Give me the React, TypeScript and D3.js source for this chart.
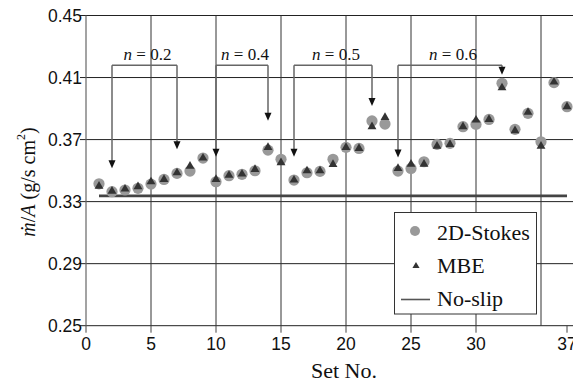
import React from 'react';
import * as d3 from 'd3';

// set numbers on the x axis
const sets = [1, 2, 3, 4, 5, 6, 7, 8, 9, 10, 11, 12, 13, 14, 15, 16, 17, 18, 19, 20,
  21, 22, 23, 24, 25, 26, 27, 28, 29, 30, 31, 32, 33, 34, 35, 36, 37];

// 2D-Stokes (grey circles)
const stokes = [0.3415, 0.3364, 0.3375, 0.3386, 0.3413, 0.3443, 0.3482, 0.3497, 0.3581, 0.3428,
  0.3467, 0.3476, 0.3499, 0.3632, 0.3573, 0.3439, 0.3486, 0.3495, 0.3573, 0.3650,
  0.3643, 0.3820, 0.3800, 0.3497, 0.3514, 0.3557, 0.3669, 0.3676, 0.3783, 0.3798,
  0.3830, 0.4063, 0.3766, 0.3869, 0.3686, 0.4067, 0.3912];

// MBE (dark triangles)
const mbe = [0.3400, 0.3368, 0.3381, 0.3396, 0.3428, 0.3443, 0.3486, 0.3529, 0.3581, 0.3443,
  0.3470, 0.3478, 0.3508, 0.3650, 0.3551, 0.3439, 0.3499, 0.3499, 0.3540, 0.3650,
  0.3643, 0.3783, 0.3843, 0.3514, 0.3542, 0.3542, 0.3658, 0.3669, 0.3783, 0.3826,
  0.3830, 0.4034, 0.3757, 0.3876, 0.3658, 0.4071, 0.3912];

const noSlip = 0.3337;
const noSlipRange = [1, 37];

const yTicks = [0.25, 0.29, 0.33, 0.37, 0.41, 0.45];
const xTicks = [0, 5, 10, 15, 20, 25, 30, 37];
const xGrid = [5, 10, 15, 20, 25, 30, 35];

// bracket annotations: n value, first/last set, arrow tip values
const bracketTop = 0.418;
const brackets = [
  { n: '0.2', from: 2, to: 7, tipFrom: 0.3515, tipTo: 0.3637 },
  { n: '0.4', from: 10, to: 14, tipFrom: 0.3589, tipTo: 0.3821 },
  { n: '0.5', from: 16, to: 22, tipFrom: 0.3589, tipTo: 0.3916 },
  { n: '0.6', from: 24, to: 32, tipFrom: 0.3585, tipTo: 0.4118 },
];

const W = 573;
const H = 383;
const sans = '"Liberation Sans", Arial, sans-serif';
const serif = '"Liberation Serif", "Times New Roman", serif';

const x = d3.scaleLinear().domain([0, 37.5]).range([86, 573.5]);
const y = d3.scaleLinear().domain([0.25, 0.45]).range([325.7, 15.5]);

const tri = d3.symbol().type(d3.symbolTriangle).size(34)()!;
const triSmall = d3.symbol().type(d3.symbolTriangle).size(22)()!;

const Arrow = ({ cx, top, tip }: { cx: number; top: number; tip: number }) => (
  <g>
    <line x1={cx} y1={top} x2={cx} y2={tip - 6} stroke="#666" strokeWidth={1.5} />
    <polygon points={`${cx - 3.5},${tip - 8} ${cx + 3.5},${tip - 8} ${cx},${tip}`} fill="#111" />
  </g>
);

export default function App() {
  return (
    <div style={{ position: 'absolute', left: 0, top: 0 }}>
      <svg width={W} height={H} style={{ display: 'block', background: '#fff' }}>
        {/* horizontal grid */}
        {yTicks.map(t => (
          <g key={'y' + t}>
            <line x1={x(0)} x2={W} y1={y(t)} y2={y(t)} stroke="#222" strokeWidth={1} />
            <line x1={x(0) - 6} x2={x(0)} y1={y(t)} y2={y(t)} stroke="#222" strokeWidth={1} />
            <text x={x(0) - 4} y={y(t)} dy="0.36em" textAnchor="end" fontFamily={sans} fontSize={17.5} fill="#111">
              {t.toFixed(2)}
            </text>
          </g>
        ))}
        {/* vertical grid */}
        {xGrid.map(t => (
          <line key={'g' + t} x1={x(t)} x2={x(t)} y1={y(0.45)} y2={y(0.25)} stroke="#333" strokeWidth={1} />
        ))}
        {/* y axis */}
        <line x1={x(0)} x2={x(0)} y1={y(0.45)} y2={y(0.25)} stroke="#666" strokeWidth={1.2} />
        {/* x ticks */}
        {xTicks.map(t => (
          <g key={'x' + t}>
            <line x1={x(t)} x2={x(t)} y1={y(0.25)} y2={y(0.25) + 7} stroke="#444" strokeWidth={1} />
            <text x={x(t)} y={350} textAnchor="middle" fontFamily={sans} fontSize={17.5} fill="#111">{t}</text>
          </g>
        ))}

        {/* no-slip line */}
        <line x1={x(noSlipRange[0])} x2={x(noSlipRange[1])} y1={y(noSlip)} y2={y(noSlip)} stroke="#444" strokeWidth={2.6} />

        {/* brackets */}
        {brackets.map(b => (
          <g key={b.n}>
            <line x1={x(b.from)} x2={x(b.to)} y1={y(bracketTop)} y2={y(bracketTop)} stroke="#666" strokeWidth={1.5} />
            <Arrow cx={x(b.from)} top={y(bracketTop)} tip={y(b.tipFrom)} />
            <Arrow cx={x(b.to)} top={y(bracketTop)} tip={y(b.tipTo)} />
            <text x={(x(b.from) + x(b.to)) / 2 + 3} y={59.5} textAnchor="middle" fontFamily={serif} fontSize={17} fill="#111">
              <tspan fontStyle="italic">n</tspan> = {b.n}
            </text>
          </g>
        ))}

        {/* points */}
        {sets.map((s, i) => (
          <circle key={'c' + s} cx={x(s)} cy={y(stokes[i])} r={5.6} fill="#999" />
        ))}
        {sets.map((s, i) => (
          <path key={'t' + s} d={tri} transform={`translate(${x(s)},${y(mbe[i])})`} fill="#333" />
        ))}

        {/* legend */}
        <rect x={394.5} y={212.5} width={142} height={101.5} fill="#fff" stroke="#333" strokeWidth={1} />
        <circle cx={415} cy={231} r={5} fill="#999" />
        <text x={437} y={240} fontFamily={serif} fontSize={22} fill="#111">2D-Stokes</text>
        <path d={triSmall} transform="translate(416,266)" fill="#333" />
        <text x={437} y={273} fontFamily={serif} fontSize={22} fill="#111">MBE</text>
        <line x1={401} x2={430} y1={299.5} y2={299.5} stroke="#555" strokeWidth={1.6} />
        <text x={437} y={306} fontFamily={serif} fontSize={22} fill="#111">No-slip</text>

        {/* axis titles */}
        <text x={344} y={378} textAnchor="middle" fontFamily={serif} fontSize={22} fill="#111">Set No.</text>
        <text transform="translate(35,182) rotate(-90)" textAnchor="middle" fontFamily={serif} fontSize={20} fill="#111">
          <tspan fontStyle="italic">ṁ</tspan>/<tspan fontStyle="italic">A</tspan> (g/s cm<tspan dy={-10} fontSize={12}>2</tspan><tspan dy={10}>)</tspan>
        </text>
      </svg>
    </div>
  );
}
